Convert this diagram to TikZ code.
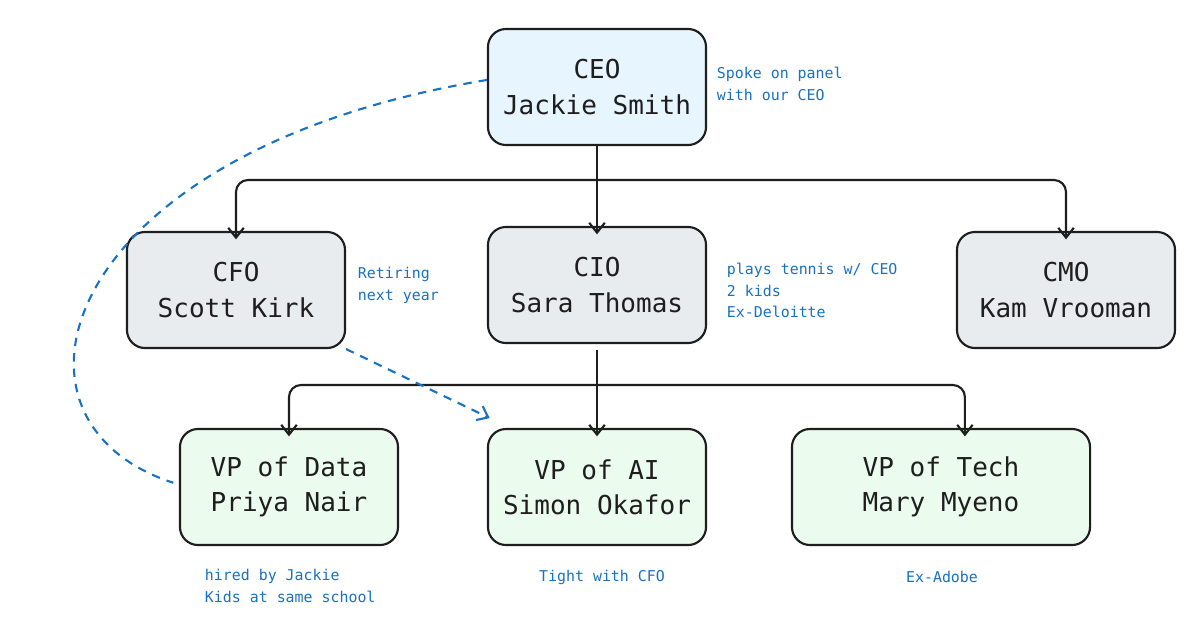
\documentclass[tikz,border=0pt]{standalone}
\usepackage{fontspec}
\setmainfont{DejaVu Sans Mono}
\usetikzlibrary{arrows.meta,positioning}
\definecolor{inkblue}{HTML}{1971C2}
\definecolor{ink}{HTML}{1E1E1E}
\definecolor{ceofill}{HTML}{E7F5FF}
\definecolor{cxofill}{HTML}{E9ECEF}
\definecolor{vpfill}{HTML}{EBFBEE}
\tikzset{
  role/.style={draw=ink, line width=1.5pt, rounded corners=0.45cm, align=center,
    minimum width=5.45cm, minimum height=2.9cm, font=\fontsize{18.5}{25}\selectfont, text=ink},
  link/.style={draw=ink, line width=1.5pt, rounded corners=0.3cm, -{Straight Barb[length=7pt,width=11pt]}},
  tie/.style={draw=inkblue, line width=1.5pt, dashed, dash pattern=on 6pt off 5pt},
  memo/.style={text=inkblue, align=left, font=\fontsize{10.6}{15.5}\selectfont}
}
\begin{document}
\begin{tikzpicture}[x=0.025cm,y=-0.025cm]
\useasboundingbox (0,0) rectangle (1188,624);
% people
\node[role, fill=ceofill] (ceo) at (597,87) {CEO\\Jackie Smith};
\node[role, fill=cxofill] (cfo) at (236,290) {CFO\\Scott Kirk};
\node[role, fill=cxofill] (cio) at (597,285) {CIO\\Sara Thomas};
\node[role, fill=cxofill] (cmo) at (1066,290) {CMO\\Kam Vrooman};
\node[role, fill=vpfill] (vpdata) at (289,487) {VP of Data\\Priya Nair};
\node[role, fill=vpfill] (vpai) at (597,487) {VP of AI\\Simon Okafor};
\node[role, fill=vpfill, minimum width=7.45cm] (vptech) at (941,487) {VP of Tech\\Mary Myeno};
% reporting lines
\coordinate (top) at (597,180);
\coordinate (mid) at (597,385);
\draw[line width=1.5pt, ink] (ceo.south) -- (top);
\draw[link] (top) -| ([yshift=-6pt]cfo.north);
\draw[link] (top) -- ([yshift=-6pt]cio.north);
\draw[link] (top) -| ([yshift=-6pt]cmo.north);
\draw[line width=1.5pt, ink] ([yshift=-4pt]cio.south) -- (mid);
\draw[link] (mid) -| ([yshift=-6pt]vpdata.north);
\draw[link] (mid) -- ([yshift=-6pt]vpai.north);
\draw[link] (mid) -| ([xshift=17,yshift=-6pt]vptech.north);
% informal ties
\draw[tie] ([yshift=5]ceo.west) .. controls (60,150) and (-20,420) .. ([xshift=-4,yshift=3]vpdata.west);
\draw[tie, -{Straight Barb[length=7pt,width=11pt]}] (cfo.south east) -- ([xshift=2,yshift=7]vpai.north west);
% notes
\node[memo, anchor=north west] (n1) at (712,62) {Spoke on panel\\with our CEO};
\node[memo, anchor=north west] (n2) at (353,262) {Retiring\\next year};
\node[memo, anchor=north west] (n3) at (722,258) {plays tennis w/ CEO\\2 kids\\Ex-Deloitte};
\node[memo, anchor=north west] (n4) at (200,564) {hired by Jackie\\Kids at same school};
\node[memo] (n5) at (602,577) {Tight with CFO};
\node[memo] (n6) at (942,577) {Ex-Adobe};
\end{tikzpicture}
\end{document}
